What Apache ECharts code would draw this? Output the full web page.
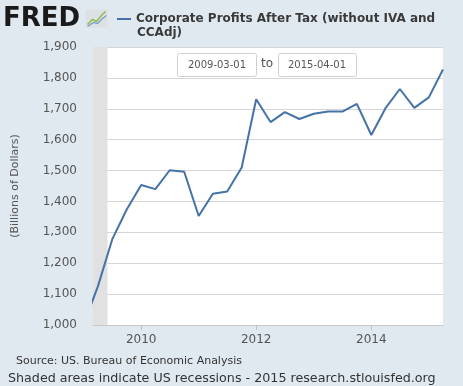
<!DOCTYPE html>
<html><head><meta charset="utf-8">
<script src="https://cdn.jsdelivr.net/npm/echarts@6/dist/echarts.min.js"></script>
<style>html,body{margin:0;padding:0;background:#e1e9f0}#c{width:463px;height:386px}</style>
</head><body><div id="c"></div>
<script>
var seriesName = 'Corporate Profits After Tax (without IVA and CCAdj)';
var dates = ['2009-01-01','2009-04-01','2009-07-01','2009-10-01','2010-01-01','2010-04-01','2010-07-01','2010-10-01',
  '2011-01-01','2011-04-01','2011-07-01','2011-10-01','2012-01-01','2012-04-01','2012-07-01','2012-10-01',
  '2013-01-01','2013-04-01','2013-07-01','2013-10-01','2014-01-01','2014-04-01','2014-07-01','2014-10-01',
  '2015-01-01','2015-04-01'];
var profits = [1002,1125,1277,1374,1453,1440,1501,1496,1353,1425,1432,1510,1731,1657,1689,1667,
  1684,1691,1691,1716,1615,1702,1764,1703,1737,1827];
var xTicks = ['2010-01-01','2012-01-01','2014-01-01'];
var recession = ['2009-03-01','2009-06-01'];
var rangeStart = '2009-03-01', rangeEnd = '2015-04-01';
var yMin = 1000, yMax = 1900, yStep = 100;

function ts(s){var p=s.split('-');return Date.UTC(+p[0],+p[1]-1,+p[2]);}
var data = dates.map(function(d,i){return [ts(d), profits[i]];});
var tickVals = xTicks.map(ts);
var chart = echarts.init(document.getElementById('c'), null, {renderer:'canvas'});
var font = 'DejaVu Sans';
chart.setOption({
  backgroundColor:'#e1e9f0',
  animation:false,
  textStyle:{fontFamily:font},
  grid:{left:93,right:20,top:47,bottom:61,show:true,backgroundColor:'#ffffff',borderWidth:0},
  title:[
    {text:'FRED',left:3,top:6,padding:0,textStyle:{fontFamily:font,fontWeight:'bold',fontSize:26,color:'#1a1a1a'}},
    {text:'CCAdj)',left:137,top:27,padding:0,textStyle:{fontFamily:font,fontWeight:'bold',fontSize:12,color:'#3a3a3a'}},
    {text:'Source: US. Bureau of Economic Analysis',left:16,top:356,padding:0,textStyle:{fontFamily:font,fontWeight:'normal',fontSize:11,color:'#333'}},
    {text:'Shaded areas indicate US recessions - 2015 research.stlouisfed.org',left:8,top:372,padding:0,textStyle:{fontFamily:font,fontWeight:'normal',fontSize:12.7,color:'#333'}}
  ],
  legend:{
    left:112,top:8,itemWidth:14,itemHeight:2,itemGap:0,icon:'rect',
    formatter:function(){return 'Corporate Profits After Tax (without IVA and';},
    textStyle:{fontFamily:font,fontWeight:'bold',fontSize:12,color:'#3a3a3a'},
    data:[seriesName]
  },
  xAxis:{
    type:'value',min:ts(rangeStart),max:ts(rangeEnd),
    axisLine:{show:true,lineStyle:{color:'#c8c8c8'}},
    axisTick:{show:true,length:5,lineStyle:{color:'#c0c0c0'},customValues:tickVals},
    axisLabel:{color:'#555',fontSize:12,fontFamily:font,margin:9,customValues:tickVals,
      formatter:function(v){return String(new Date(v).getUTCFullYear());}},
    splitLine:{show:false}
  },
  yAxis:{
    type:'value',min:yMin,max:yMax,interval:yStep,
    name:'(Billions of Dollars)',nameLocation:'middle',nameGap:72,
    nameTextStyle:{color:'#555',fontSize:11,fontFamily:font},
    axisLine:{show:false},axisTick:{show:false},
    axisLabel:{color:'#555',fontSize:12,fontFamily:font,margin:16,
      formatter:function(v){return v.toLocaleString('en-US');}},
    splitLine:{lineStyle:{color:'#d6d6d6'}}
  },
  series:[{
    name:seriesName,type:'line',data:data,symbol:'none',clip:true,
    lineStyle:{color:'#4572a7',width:2},itemStyle:{color:'#4572a7'},
    markArea:{silent:true,itemStyle:{color:'#e1e1e1'},data:[[{xAxis:ts(recession[0])},{xAxis:ts(recession[1])}]]}
  }],
  graphic:[
    {type:'group',left:85,top:9,children:[
      {type:'rect',shape:{x:0,y:0,width:22,height:18},style:{fill:'#dde1e4'}},
      {type:'polyline',shape:{points:[[2,15],[7,10],[11,12],[16,6],[20,2]]},style:{stroke:'#8cbf4f',lineWidth:1.5,fill:null}},
      {type:'polyline',shape:{points:[[2,17],[8,13],[12,14],[17,9],[21,6]]},style:{stroke:'#7a9cc6',lineWidth:1.2,fill:null}}
    ]},
    {type:'rect',shape:{x:177.5,y:53.5,width:79,height:23,r:2},style:{fill:'#fff',stroke:'#d0d0d0',lineWidth:1},z:10},
    {type:'text',x:217,y:65,style:{text:'2009-03-01',font:'10px DejaVu Sans',fill:'#555',align:'center',verticalAlign:'middle'},z:11},
    {type:'text',x:267,y:64,style:{text:'to',font:'12px DejaVu Sans',fill:'#555',align:'center',verticalAlign:'middle'},z:11},
    {type:'rect',shape:{x:278.5,y:53.5,width:78,height:23,r:2},style:{fill:'#fff',stroke:'#d0d0d0',lineWidth:1},z:10},
    {type:'text',x:317,y:65,style:{text:'2015-04-01',font:'10px DejaVu Sans',fill:'#555',align:'center',verticalAlign:'middle'},z:11}
  ]
});
</script></body></html>
